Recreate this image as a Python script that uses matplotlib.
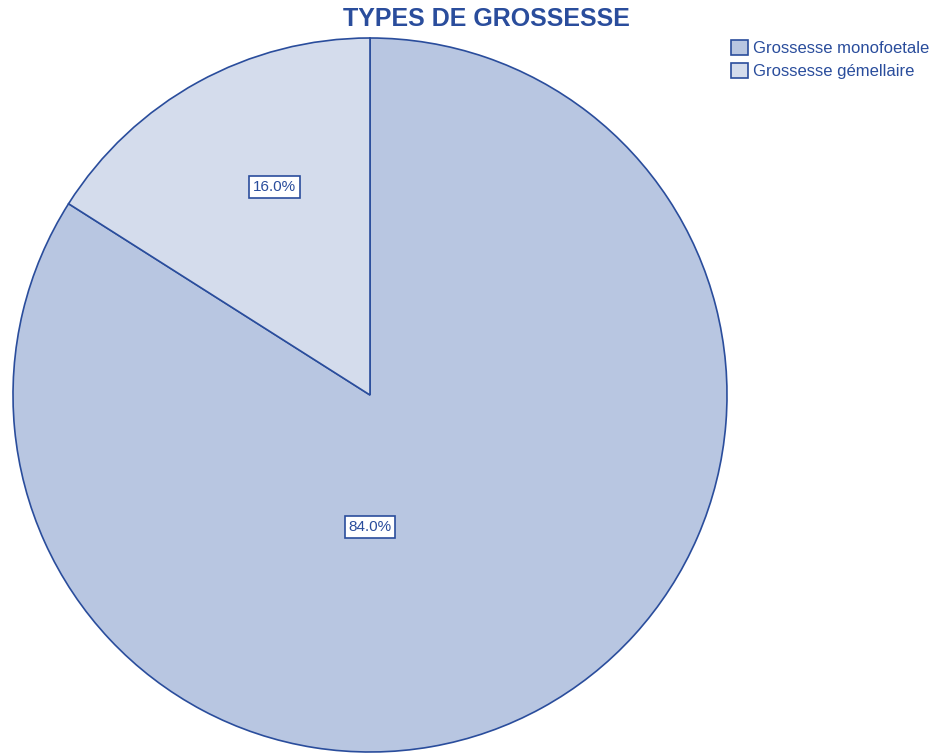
import matplotlib
matplotlib.use("Agg")
import matplotlib.pyplot as plt
from matplotlib.patches import Patch

plt.rcParams["font.family"] = ["Liberation Sans", "DejaVu Sans"]

categories = ["Grossesse monofoetale", "Grossesse gémellaire"]
percents = [84.0, 16.0]
colors = ["#b8c6e1", "#d4dcec"]
edge = "#2a4d9c"
text_col = "#2a4d9c"

fig = plt.figure(figsize=(9.33, 7.53), dpi=100)
ax = fig.add_axes([13 / 933, 1 / 753, 714 / 933, 714 / 753])

wedges, _ = ax.pie(percents, colors=colors, startangle=90, counterclock=False,
                   wedgeprops=dict(edgecolor=edge, linewidth=1.2))
ax.set_xlim(-1, 1)
ax.set_ylim(-1, 1)
ax.set_aspect("auto")

# label spots (axes fractions of the pie box)
label_pos = [(0.5, 0.315), (0.366, 0.791)]
for p, (lx, ly) in zip(percents, label_pos):
    ax.text(lx, ly, "%.1f%%" % p, transform=ax.transAxes, ha="center", va="center",
            fontsize=11, color=text_col,
            bbox=dict(boxstyle="square,pad=0.25", fc="white", ec=edge, lw=1.2))

fig.text(486 / 933, 1 - 19 / 753, "TYPES DE GROSSESSE", ha="center", va="center",
         fontsize=18, fontweight="bold", color=text_col)

handles = [Patch(facecolor=c, edgecolor=edge, lw=1.2) for c in colors]
fig.legend(handles, categories, loc="upper left", bbox_to_anchor=(731 / 933, 1 - 40 / 753),
           frameon=False, fontsize=12, labelcolor=text_col, handlelength=1.0,
           handleheight=1.0, handletextpad=0.3, labelspacing=0.4, borderpad=0,
           borderaxespad=0)

fig.savefig("out.png", dpi=100)
